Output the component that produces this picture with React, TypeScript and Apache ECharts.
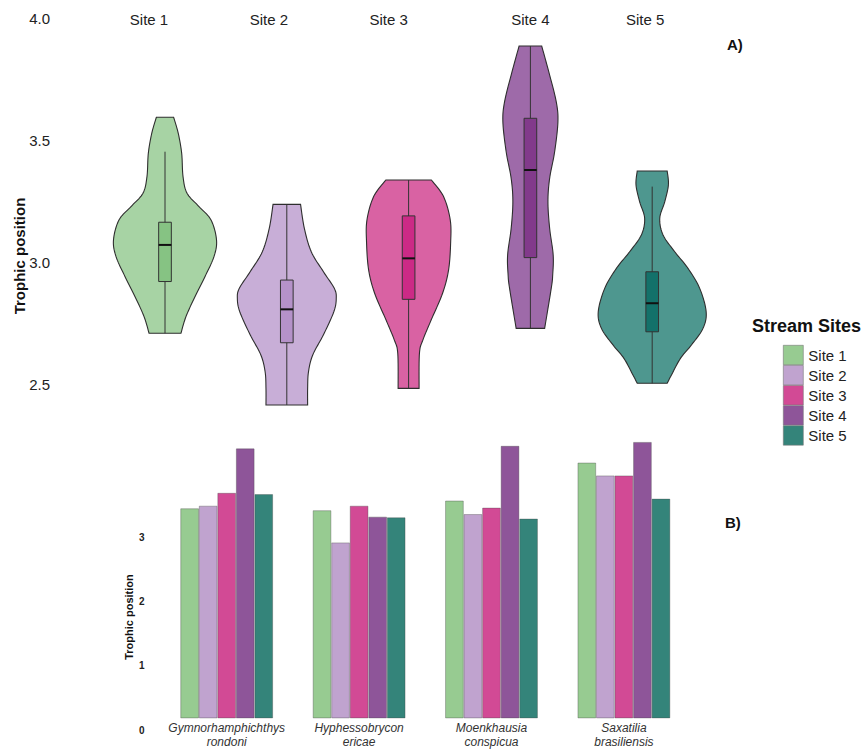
import { useEffect, useRef } from "react";
import * as echarts from "echarts";

const FONT = "'Liberation Sans', Arial, sans-serif";

const SITES = ["Site 1", "Site 2", "Site 3", "Site 4", "Site 5"];
const SPECIES = [
  "Gymnorhamphichthys\nrondoni",
  "Hyphessobrycon\nericae",
  "Moenkhausia\nconspicua",
  "Saxatilia\nbrasiliensis",
];

// Violin outlines, top to bottom: [trophic position, half-width in site units]
const violinSite1 = [
  [3.593, 0.071], [3.527, 0.109], [3.445, 0.137], [3.35, 0.148], [3.282, 0.181],
  [3.227, 0.279], [3.172, 0.378], [3.09, 0.423], [3.022, 0.402], [2.94, 0.328],
  [2.858, 0.246], [2.776, 0.172], [2.708, 0.131],
];
const violinSite2 = [
  [3.236, 0.113], [3.138, 0.144], [3.042, 0.201], [2.96, 0.301], [2.892, 0.39],
  [2.851, 0.406], [2.796, 0.386], [2.701, 0.3], [2.619, 0.213], [2.55, 0.178],
  [2.482, 0.171], [2.414, 0.171],
];
const violinSite3 = [
  [3.336, 0.187], [3.268, 0.287], [3.172, 0.342], [3.077, 0.345], [2.967, 0.328],
  [2.872, 0.279], [2.762, 0.185], [2.68, 0.117], [2.626, 0.089], [2.482, 0.086],
];
const violinSite4 = [
  [3.885, 0.093], [3.766, 0.158], [3.657, 0.212], [3.575, 0.226], [3.452, 0.199],
  [3.343, 0.158], [3.247, 0.144], [3.138, 0.158], [3.029, 0.187], [2.947, 0.183],
  [2.892, 0.171], [2.728, 0.117],
];
const violinSite5 = [
  [3.373, 0.123], [3.316, 0.133], [3.247, 0.103], [3.179, 0.062], [3.111, 0.089],
  [3.042, 0.185], [2.974, 0.294], [2.892, 0.39], [2.796, 0.443], [2.728, 0.417],
  [2.66, 0.322], [2.605, 0.232], [2.537, 0.158], [2.503, 0.123],
];

// Box stats: [lower whisker, Q1, median, Q3, upper whisker]
const boxSite1 = [2.708, 2.92, 3.07, 3.163, 3.452];
const boxSite2 = [2.414, 2.669, 2.806, 2.926, 3.236];
const boxSite3 = [2.482, 2.847, 3.015, 3.189, 3.336];
const boxSite4 = [2.728, 3.018, 3.377, 3.589, 3.885];
const boxSite5 = [2.503, 2.714, 2.831, 2.96, 3.309];

// Trophic position per species, one array per site
const barSite1 = [3.26, 3.23, 3.38, 3.97];
const barSite2 = [3.3, 2.73, 3.17, 3.77];
const barSite3 = [3.5, 3.3, 3.27, 3.77];
const barSite4 = [4.19, 3.13, 4.23, 4.29];
const barSite5 = [3.48, 3.12, 3.1, 3.41];

const TOP_TICKS = [2.5, 3.0, 3.5, 4.0];
const BOTTOM_TICKS = [0, 1, 2, 3];

const VIOLINS = [violinSite1, violinSite2, violinSite3, violinSite4, violinSite5];
const BOXES = [boxSite1, boxSite2, boxSite3, boxSite4, boxSite5];
const BARS = [barSite1, barSite2, barSite3, barSite4, barSite5];

const VIOLIN_FILL = ["#a7d3a4", "#c8aed7", "#d962a3", "#9e6aa9", "#4e978f"];
const BOX_FILL = ["#86c383", "#b592c9", "#cc2a86", "#823a8b", "#13716a"];
const BAR_FILL = ["#97cb91", "#c0a3cf", "#d24a95", "#8e5599", "#34847a"];

// The site names sit a little left of their violins
const SITE_LABEL_PAD = [32, 36, 40, 0, 14];

const BOX_HALF = 0.052;

// Catmull-Rom through the outline points (pixel space) for a smooth edge
function smoothProfile(pts: number[][], steps = 10): number[][] {
  const out: number[][] = [];
  const n = pts.length;
  for (let k = 0; k < n - 1; k++) {
    const p0 = pts[Math.max(k - 1, 0)];
    const p1 = pts[k];
    const p2 = pts[k + 1];
    const p3 = pts[Math.min(k + 2, n - 1)];
    for (let s = 0; s < steps; s++) {
      const t = s / steps;
      const t2 = t * t;
      const t3 = t2 * t;
      const f = (a: number, b: number, c: number, d: number) =>
        0.5 * (2 * b + (-a + c) * t + (2 * a - 5 * b + 4 * c - d) * t2 + (-a + 3 * b - 3 * c + d) * t3);
      out.push([f(p0[0], p1[0], p2[0], p3[0]), Math.max(0, f(p0[1], p1[1], p2[1], p3[1]))]);
    }
  }
  out.push(pts[n - 1]);
  return out;
}

function renderViolin(params: any, api: any) {
  const i = params.dataIndex;
  const xVal = i + 1;
  const unit = api.size([1, 0])[0];
  const cx = api.coord([xVal, 3])[0];
  const pts = VIOLINS[i].map(([v, w]) => [api.coord([xVal, v])[1], w * unit]);
  const dense = smoothProfile(pts);
  const right = dense.map(([y, hw]) => [cx + hw, y]);
  const left = dense.map(([y, hw]) => [cx - hw, y]).reverse();
  const [lo, q1, med, q3, hi] = BOXES[i];
  const yLo = api.coord([xVal, lo])[1];
  const yQ1 = api.coord([xVal, q1])[1];
  const yMed = api.coord([xVal, med])[1];
  const yQ3 = api.coord([xVal, q3])[1];
  const yHi = api.coord([xVal, hi])[1];
  const bw = BOX_HALF * unit;
  return {
    type: "group",
    children: [
      {
        type: "polygon",
        shape: { points: right.concat(left) },
        style: { fill: VIOLIN_FILL[i], stroke: "#2e2e2e", lineWidth: 1.1 },
      },
      {
        type: "line",
        shape: { x1: cx, y1: yHi, x2: cx, y2: yLo },
        style: { stroke: "#333", lineWidth: 1 },
      },
      {
        type: "rect",
        shape: { x: cx - bw, y: yQ3, width: 2 * bw, height: yQ1 - yQ3 },
        style: { fill: BOX_FILL[i], stroke: "#333", lineWidth: 1 },
      },
      {
        type: "line",
        shape: { x1: cx - bw, y1: yMed, x2: cx + bw, y2: yMed },
        style: { stroke: "#111", lineWidth: 2 },
      },
    ],
  };
}

export default function App() {
  const ref = useRef<HTMLDivElement>(null);

  useEffect(() => {
    if (!ref.current) return;
    const chart = echarts.init(ref.current, null, { renderer: "svg" });

    const siteRich: Record<string, any> = {};
    SITE_LABEL_PAD.forEach((p, k) => {
      siteRich["s" + (k + 1)] = {
        fontSize: 15,
        fontFamily: FONT,
        color: "#222",
        padding: [0, p, 0, 0],
      };
    });

    const option: any = {
      animation: false,
      backgroundColor: "#ffffff",
      textStyle: { fontFamily: FONT },
      grid: [
        { left: 104.1, width: 609, top: 18, height: 390.4, outerBoundsMode: "none" },
        { left: 160.5, width: 529.6, top: 428.5, height: 289.8, outerBoundsMode: "none" },
      ],
      xAxis: [
        {
          type: "value",
          gridIndex: 0,
          min: 0.5,
          max: 5.5,
          position: "top",
          axisLine: { show: false },
          axisTick: { show: false },
          splitLine: { show: false },
          axisLabel: {
            customValues: [1, 2, 3, 4, 5],
            formatter: (v: number) => `{s${Math.round(v)}|${SITES[Math.round(v) - 1]}}`,
            rich: siteRich,
            verticalAlign: "middle",
            margin: -1,
          },
        },
        {
          type: "category",
          gridIndex: 1,
          data: SPECIES,
          axisLine: { show: false },
          axisTick: { show: false },
          splitLine: { show: false },
          axisLabel: {
            interval: 0,
            fontSize: 12,
            lineHeight: 14,
            fontStyle: "italic",
            fontFamily: FONT,
            color: "#333",
            margin: 3,
          },
        },
      ],
      yAxis: [
        {
          type: "value",
          gridIndex: 0,
          min: 2.4,
          max: 4.0,
          axisLine: { show: false },
          axisTick: { show: false },
          splitLine: { show: false },
          axisLabel: {
            customValues: TOP_TICKS,
            formatter: (v: number) => v.toFixed(1),
            fontSize: 15,
            fontFamily: FONT,
            color: "#222",
            margin: 54,
          },
        },
        {
          type: "value",
          gridIndex: 1,
          min: 0,
          max: 4.5,
          axisLine: { show: false },
          axisTick: { show: false },
          splitLine: { show: false },
          axisLabel: {
            customValues: BOTTOM_TICKS,
            fontSize: 10,
            fontWeight: "bold",
            fontFamily: FONT,
            color: "#222",
            margin: 16,
            // tick numbers are printed slightly below their gridline positions
            verticalAlign: "top",
            lineHeight: 24,
          },
        },
      ],
      legend: {
        data: SITES,
        orient: "vertical",
        left: 783,
        top: 345,
        padding: 0,
        itemWidth: 20,
        itemHeight: 19.5,
        itemGap: 0,
        icon: "rect",
        selectedMode: false,
        textStyle: { fontSize: 15, fontFamily: FONT, color: "#222" },
        itemStyle: { borderColor: "#777", borderWidth: 0.6 },
      },
      title: {
        text: "Stream Sites",
        left: 752,
        top: 317,
        padding: 0,
        textStyle: { fontSize: 18, fontWeight: "bold", fontFamily: FONT, color: "#111" },
      },
      graphic: [
        {
          type: "text",
          x: 19,
          y: 256,
          rotation: Math.PI / 2,
          style: {
            text: "Trophic position",
            font: `bold 15px ${FONT}`,
            fill: "#111",
            align: "center",
            verticalAlign: "middle",
          },
        },
        {
          type: "text",
          x: 129,
          y: 617,
          rotation: Math.PI / 2,
          style: {
            text: "Trophic position",
            font: `bold 11px ${FONT}`,
            fill: "#111",
            align: "center",
            verticalAlign: "middle",
          },
        },
        {
          type: "text",
          x: 727,
          y: 44,
          style: { text: "A)", font: `bold 15px ${FONT}`, fill: "#111", verticalAlign: "middle" },
        },
        {
          type: "text",
          x: 725,
          y: 522,
          style: { text: "B)", font: `bold 15px ${FONT}`, fill: "#111", verticalAlign: "middle" },
        },
      ],
      series: [
        {
          type: "custom",
          name: "violins",
          xAxisIndex: 0,
          yAxisIndex: 0,
          clip: false,
          data: SITES.map((_, k) => [k + 1, BOXES[k][2]]),
          encode: { x: 0, y: 1 },
          renderItem: renderViolin,
          silent: true,
        },
        ...SITES.map((name, k) => ({
          type: "bar",
          name,
          xAxisIndex: 1,
          yAxisIndex: 1,
          data: BARS[k],
          barGap: "0%",
          barCategoryGap: "30%",
          itemStyle: {
            color: BAR_FILL[k],
            borderColor: "rgba(70,70,70,0.45)",
            borderWidth: 0.8,
          },
        })),
      ],
    };

    chart.setOption(option);
    return () => chart.dispose();
  }, []);

  return (
    <div
      ref={ref}
      style={{ position: "fixed", left: 0, top: 0, width: 868, height: 749, background: "#fff" }}
    />
  );
}
